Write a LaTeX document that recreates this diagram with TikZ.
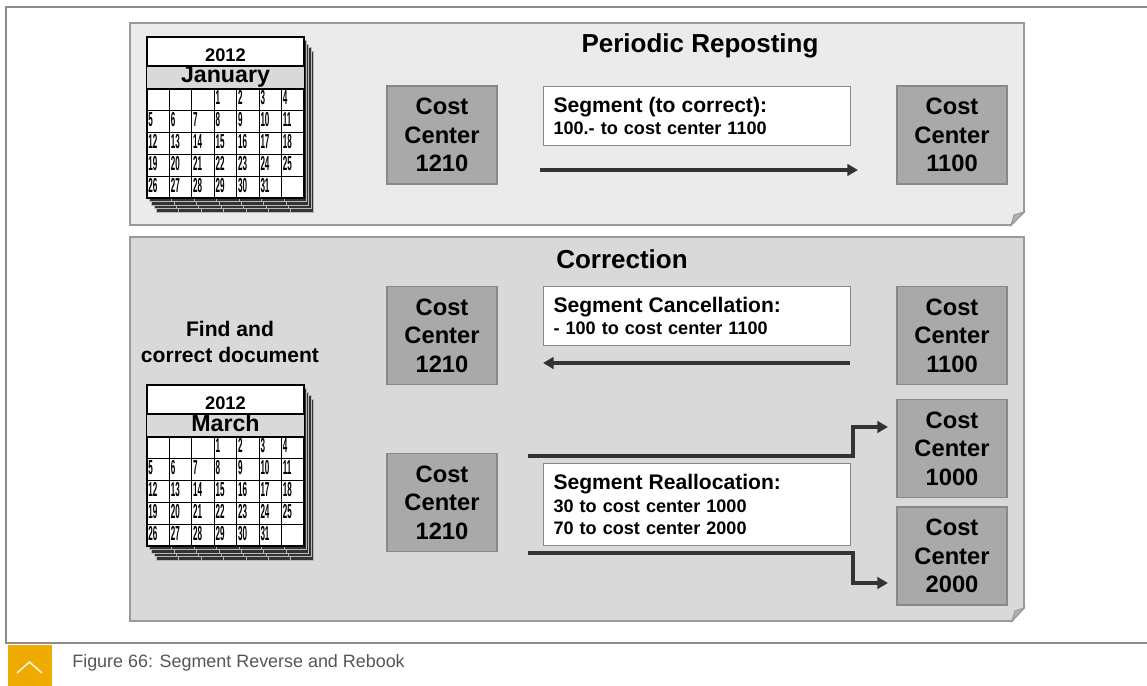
\documentclass[tikz,border=0pt]{standalone}
\usepackage{fontspec}
\setmainfont{Liberation Sans}
\usepackage{graphicx}
\usetikzlibrary{arrows.meta}

\definecolor{framegray}{HTML}{8C8C8C}
\definecolor{panelA}{HTML}{EBEBEB}
\definecolor{panelB}{HTML}{D9D9D9}
\definecolor{panelline}{HTML}{9A9A9A}
\definecolor{ccfill}{HTML}{A9A9A9}
\definecolor{ccline}{HTML}{888888}
\definecolor{arrowgray}{HTML}{333333}
\definecolor{sapgold}{HTML}{F0AB00}
\definecolor{captiongray}{HTML}{555555}

\tikzset{
  ccbox/.style={draw=ccline, fill=ccfill, line width=0.6pt, minimum width=2.2cm,
    minimum height=1.96cm, inner sep=0pt, align=center,
    font=\fontsize{13.5}{16.2}\selectfont\bfseries},
  segbox/.style={draw=ccline, fill=white, line width=0.6pt, anchor=north west,
    minimum width=6.14cm, text width=5.74cm, inner xsep=0.2cm, inner ysep=0pt,
    align=left, font=\fontsize{10.3}{12.6}\selectfont\bfseries},
  arr/.style={draw=arrowgray, line width=2.1pt, -{Triangle[length=6pt,width=6.5pt]}},
  panel/.style={draw=panelline, line width=0.9pt},
  fold/.style={draw=panelline, line width=0.6pt, fill=gray!60},
  title/.style={anchor=base, font=\fontsize{14.8}{16}\selectfont\bfseries},
  sheet/.style={draw=gray!55, fill=black!80, line width=0.4pt},
  calline/.style={draw=black, line width=0.9pt},
  calgrid/.style={draw=black, line width=0.7pt},
  calnum/.style={anchor=north west, inner sep=0pt, font=\fontsize{11.5}{11.5}\selectfont\bfseries},
}

\newcommand{\segtitle}[1]{{\fontsize{12}{12.6}\selectfont #1}}

% カレンダー: #1 名前, #2 縦のずれ, #3 月
\newcommand{\drawcal}[3]{%
  \begin{scope}[shift={(0,#2)}]
    \foreach \k in {4,3,2,1} {
      \draw[sheet] (147+2.3*\k,37+3.5*\k) rectangle (304+2.3*\k,198+3.5*\k);
      \foreach \i in {1,...,6}
        \draw[gray!55, line width=0.4pt] (147+22.43*\i+2.3*\k,198+3.5*\k-3.5) -- (147+22.43*\i+2.3*\k,198+3.5*\k);
    }
    \draw[calline, fill=white] (147,37) rectangle (304,198);
    \fill[panelB] (147,66) rectangle (304,89);
    \draw[calline] (147,66) -- (304,66) (147,89) -- (304,89);
    \foreach \j in {1,...,4}
      \draw[calgrid] (147,89+21.8*\j) -- (304,89+21.8*\j);
    \foreach \i in {1,...,6}
      \draw[calgrid] (147+22.43*\i,89) -- (147+22.43*\i,198);
    \node[anchor=base, font=\fontsize{10.4}{12}\selectfont\bfseries] (#1-year) at (225.5,61.7) {2012};
    \node[anchor=base, font=\fontsize{13.2}{14}\selectfont\bfseries] (#1-month) at (225.5,83) {#3};
    \foreach \d in {1,...,31} {
      \pgfmathtruncatemacro\p{\d+2}
      \pgfmathtruncatemacro\c{mod(\p,7)}
      \pgfmathtruncatemacro\r{\p/7}
      \node[calnum] (#1-d\d) at (147+22.43*\c+1,89+21.8*\r+1.5) {\scalebox{0.4}[1]{\d}};
    }
  \end{scope}%
}

\begin{document}
\begin{tikzpicture}[x=0.02cm, y=-0.02cm]
  \useasboundingbox (0,0) rectangle (1147,686);
  \fill[white] (0,0) rectangle (1147,686);

  % 枠
  \draw[framegray, line width=1.1pt] (1147,7) -- (6,7) -- (6,643) -- (1147,643);

  % 上のパネル
  \draw[panel, fill=panelA] (130,23) -- (1024,23) -- (1024,212) -- (1011,225) -- (130,225) -- cycle;
  \draw[fold] (1011,225) -- (1024,212) -- (1014,215) -- cycle;
  \node[title] (rep-title) at (700,53) {Periodic Reposting};

  % 下のパネル
  \draw[panel, fill=panelB] (130,237) -- (1024,237) -- (1024,608) -- (1012,621) -- (130,621) -- cycle;
  \draw[fold] (1012,621) -- (1024,608) -- (1015,611) -- cycle;
  \node[title] (cor-title) at (622,268) {Correction};

  % カレンダー
  \drawcal{jan}{0}{January}
  \drawcal{mar}{348}{March}
  \node[align=center, font=\fontsize{12}{14.7}\selectfont\bfseries] (find) at (230,342) {Find and\\correct document};

  % コストセンター
  \node[ccbox] (rep-1210) at (442,135) {Cost\\Center\\1210};
  \node[ccbox] (rep-1100) at (952,135) {Cost\\Center\\1100};
  \node[ccbox] (can-1210) at (442,335.5) {Cost\\Center\\1210};
  \node[ccbox] (can-1100) at (952,335.5) {Cost\\Center\\1100};
  \node[ccbox] (ra-1210) at (442,502.5) {Cost\\Center\\1210};
  \node[ccbox] (ra-1000) at (952,448.5) {Cost\\Center\\1000};
  \node[ccbox] (ra-2000) at (952,556) {Cost\\Center\\2000};

  % セグメント
  \node[segbox, minimum height=1.18cm] (seg-rep) at (543,86)
    {\segtitle{Segment (to correct):}\\100.- to cost center 1100};
  \node[segbox, minimum height=1.18cm] (seg-can) at (543,286)
    {\segtitle{Segment Cancellation:}\\- 100 to cost center 1100};
  \node[segbox, minimum height=1.64cm] (seg-ra) at (543,463)
    {\segtitle{Segment Reallocation:}\\30 to cost center 1000\\70 to cost center 2000};

  % 矢印
  \coordinate (rep-a) at (540,170);
  \coordinate (rep-b) at (858,170);
  \coordinate (can-a) at (850,363);
  \coordinate (can-b) at (543,363);
  \coordinate (ra-a) at (528,456);
  \coordinate (ra-b) at (888,427);
  \coordinate (rb-a) at (528,553);
  \coordinate (rb-b) at (888,583);
  \draw[arr] (rep-a) -- (rep-b);
  \draw[arr] (can-a) -- (can-b);
  \draw[arr] (ra-a) -- ++(325,0) |- (ra-b);
  \draw[arr] (rb-a) -- ++(325,0) |- (rb-b);

  % キャプション
  \fill[sapgold] (8,645) rectangle (52,686);
  \draw[white!85!sapgold, line width=0.9pt] (17,673) -- (29.5,662) -- (42,673);
  \node[anchor=base west, inner sep=0pt, font=\fontsize{10.2}{12}\selectfont, text=captiongray] (caption) at (72,667)
    {Figure 66: Segment Reverse and Rebook};
\end{tikzpicture}
\end{document}
